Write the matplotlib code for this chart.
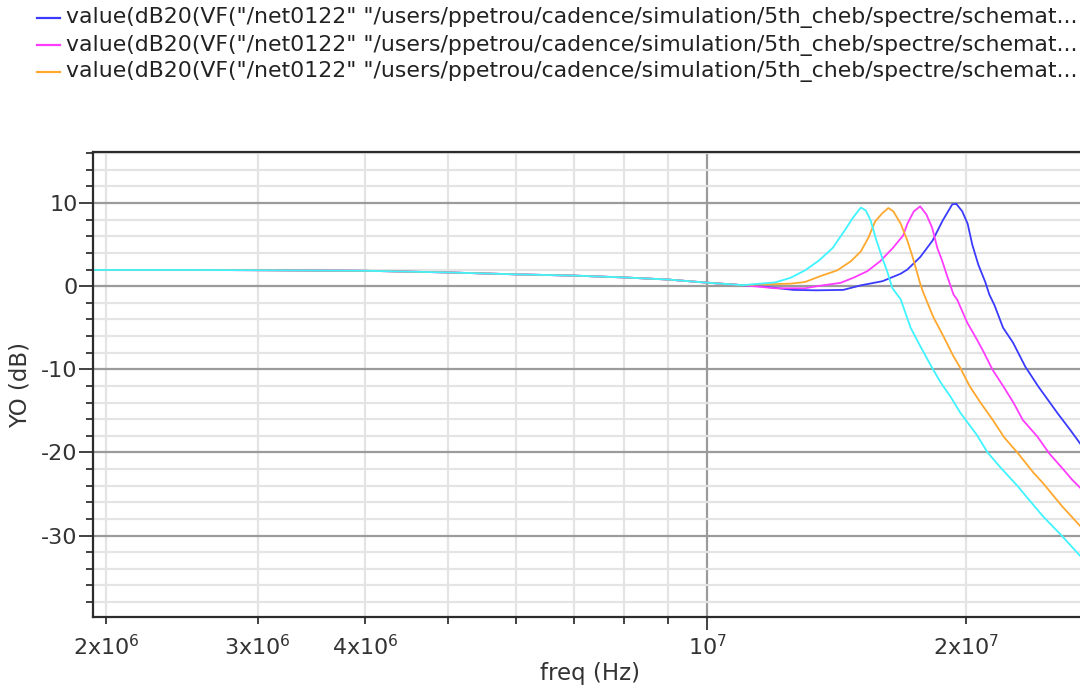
import matplotlib
matplotlib.use("Agg")
import matplotlib.pyplot as plt
from matplotlib.lines import Line2D
from matplotlib.ticker import FixedLocator, FixedFormatter, MultipleLocator
import numpy as np

plt.rcParams["axes.unicode_minus"] = False

# Shared passband response (MHz, dB)
pass_mhz = [1.9, 2.5, 3.0, 4.0, 5.0, 6.0, 7.0, 8.0, 9.0, 10.0, 11.0]
pass_db = [1.95, 1.95, 1.92, 1.85, 1.65, 1.42, 1.27, 1.05, 0.8, 0.42, 0.12]

# Per-corner response beyond 11 MHz
blue_mhz = [11.5, 12.6, 13.4, 14.4, 15.1, 16.0, 16.8, 17.1, 17.7, 18.3, 18.8, 19.29,
            19.5, 19.81, 20.1, 20.35, 20.68, 21.07, 21.3, 21.6, 22.1, 22.7, 23.46,
            24.3, 25.58, 26.46, 27.2, 28.0]
blue_db = [0.0, -0.45, -0.5, -0.45, 0.1, 0.6, 1.5, 2.0, 3.5, 5.5, 7.9, 9.85,
           9.9, 9.0, 7.5, 5.0, 2.6, 0.5, -1.0, -2.3, -5.0, -6.8, -9.7,
           -12.1, -15.3, -17.3, -19.0, -20.2]

magenta_mhz = [12.0, 13.0, 13.43, 14.3, 14.79, 15.36, 15.9, 16.45, 16.91, 17.1, 17.4,
               17.7, 18.0, 18.28, 18.53, 18.78, 19.0, 19.35, 19.54, 20.08, 20.6, 21.0,
               21.47, 22.1, 22.72, 23.3, 24.23, 25.0, 26.0, 26.6, 27.2, 28.0]
magenta_db = [-0.25, -0.25, 0.0, 0.4, 1.0, 1.8, 3.0, 4.6, 6.1, 7.5, 9.0,
              9.6, 8.6, 7.0, 4.6, 3.0, 1.4, -1.0, -1.6, -4.4, -6.4, -8.0,
              -10.0, -12.0, -14.0, -16.1, -18.1, -20.1, -22.1, -23.3, -24.3, -25.4]

orange_mhz = [11.5, 12.5, 13.0, 13.54, 14.17, 14.7, 15.1, 15.4, 15.69, 16.0, 16.25,
              16.47, 16.8, 17.1, 17.38, 17.7, 17.85, 18.33, 18.83, 19.34, 19.7, 20.2,
              20.8, 21.5, 22.17, 23.0, 24.0, 24.6, 25.9, 27.2, 28.0]
orange_db = [0.2, 0.3, 0.5, 1.2, 1.9, 3.0, 4.2, 5.8, 7.8, 8.8, 9.4,
             9.0, 7.5, 5.5, 3.2, 0.3, -0.8, -3.7, -6.0, -8.4, -9.8, -12.0,
             -14.0, -16.1, -18.2, -20.1, -22.5, -23.7, -26.5, -28.9, -29.9]

cyan_mhz = [12.0, 12.5, 13.0, 13.5, 14.0, 14.5, 14.75, 15.0, 15.1, 15.3, 15.5, 15.73,
            16.0, 16.2, 16.42, 16.8, 17.25, 17.7, 18.2, 18.7, 19.2, 19.7, 20.6,
            21.2, 21.9, 23.0, 23.6, 24.6, 25.8, 27.2, 28.0]
cyan_db = [0.45, 1.0, 1.9, 3.1, 4.6, 6.9, 8.1, 9.1, 9.45, 9.1, 7.9, 5.6,
           3.3, 1.8, -0.2, -1.6, -5.0, -7.2, -9.5, -11.6, -13.3, -15.2, -17.9,
           -20.0, -21.7, -24.1, -25.5, -27.7, -29.9, -32.5, -33.4]

legend_labels = ['value(dB20(VF("/net0122" "/users/ppetrou/cadence/simulation/5th_cheb/spectre/schemat...'] * 3

series = [
    (blue_mhz, blue_db, "#3b3bff"),
    (magenta_mhz, magenta_db, "#ff3cff"),
    (orange_mhz, orange_db, "#ffa82e"),
    (cyan_mhz, cyan_db, "#3ff4ff"),
]

W, H = 1080, 692
fig = plt.figure(figsize=(W / 100, H / 100), dpi=100)
text_col = "#333333"

# axes box in pixels: left 93, top 152, bottom 617, running past the right edge
left, top, bottom, right = 93, 152, 617, 1086
ax = fig.add_axes([left / W, 1 - bottom / H, (right - left) / W, (bottom - top) / H])

lines = []
for mhz, db, col in series:
    f = np.array(pass_mhz + mhz) * 1e6
    v = np.array(pass_db + db)
    (ln,) = ax.plot(f, v, color=col, lw=1.3, solid_joinstyle="round")
    lines.append(ln)

ax.set_xscale("log")
ax.set_xlim(1.929e6, 2.76e7)
ax.set_ylim(-39.8, 16.14)

# x ticks: decade major, in-between minor
ax.xaxis.set_major_locator(FixedLocator([1e7]))
ax.xaxis.set_major_formatter(FixedFormatter([r"10$^{7}$"]))
minor_pos = [2e6, 3e6, 4e6, 5e6, 6e6, 7e6, 8e6, 9e6, 2e7]
minor_lab = [r"2x10$^{6}$", r"3x10$^{6}$", r"4x10$^{6}$", "", "", "", "", "", r"2x10$^{7}$"]
ax.xaxis.set_minor_locator(FixedLocator(minor_pos))
ax.xaxis.set_minor_formatter(FixedFormatter(minor_lab))

ax.yaxis.set_major_locator(MultipleLocator(10))
ax.yaxis.set_minor_locator(MultipleLocator(2))

ax.tick_params(axis="both", which="both", direction="out", colors=text_col,
               labelsize=16, labelcolor=text_col)
ax.tick_params(axis="x", which="major", length=9, width=1.3, pad=3)
ax.tick_params(axis="x", which="minor", length=5, width=1.3, pad=7)
ax.tick_params(axis="y", which="major", length=10, width=1.3, pad=1)
ax.tick_params(axis="y", which="minor", length=5, width=1.3)

ax.grid(which="major", color="#9b9b9b", lw=1.6)
ax.grid(which="minor", color="#e4e4e4", lw=1.6)
ax.set_axisbelow(True)

for s in ("left", "bottom", "top"):
    ax.spines[s].set_color("#2b2b2b")
    ax.spines[s].set_linewidth(1.6)
ax.spines["right"].set_visible(False)

ax.set_xlabel("freq (Hz)", fontsize=16.5, color=text_col, labelpad=2)
ax.set_ylabel("YO (dB)", fontsize=16.5, color=text_col)
ax.yaxis.set_label_coords(-0.062, 0.5)

# legend rows drawn at the top of the figure
row_y = [18, 45, 72]
for ln, lab, y in zip(lines[:3], legend_labels, row_y):
    fig.add_artist(Line2D([37 / W, 60 / W], [1 - y / H] * 2, color=ln.get_color(), lw=1.6))
    fig.text(66 / W, 1 - y / H, lab, fontsize=15.85, color="#222222", va="center", ha="left")

fig.savefig("out.png", dpi=100)
